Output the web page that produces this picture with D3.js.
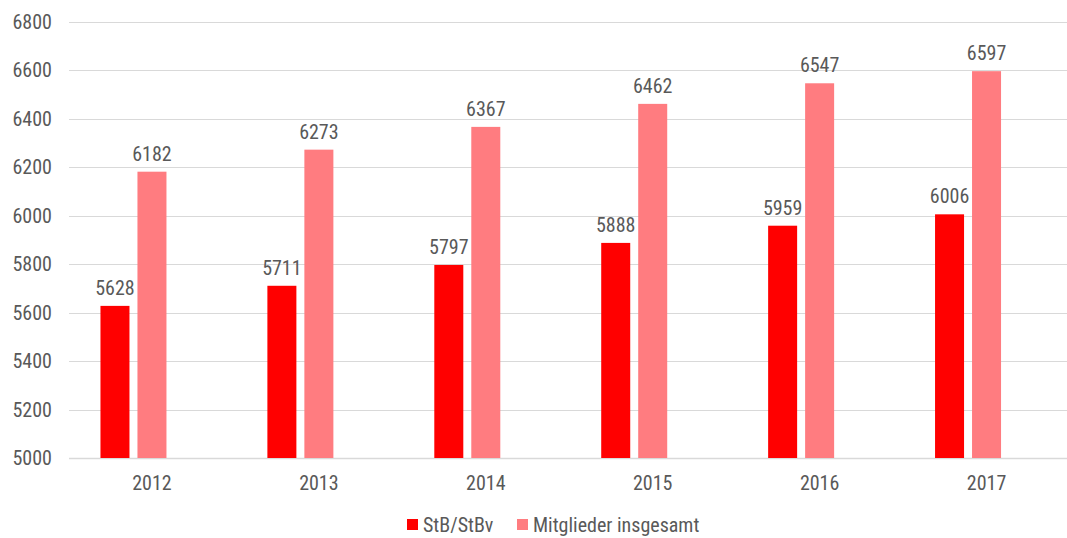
<!DOCTYPE html>
<html>
  <head>
    <meta charset="utf-8">
    <title>StB/StBv Mitglieder</title>
    <script src="https://d3js.org/d3.v7.min.js"></script>
    <style>
      body { margin: 0; background: #fff; }
      text { font-family: "Liberation Sans Narrow", "Arial Narrow", "Roboto Condensed", sans-serif; fill: #595959; }
    </style>
  </head>
  <body>
    <div id="chart"></div>
    <script>
      var years = ["2012", "2013", "2014", "2015", "2016", "2017"];
      var stb = [5628, 5711, 5797, 5888, 5959, 6006];
      var mitglieder = [6182, 6273, 6367, 6462, 6547, 6597];
      var seriesNames = ["StB/StBv", "Mitglieder insgesamt"];
      var colors = ["#ff0000", "#ff7c80"];
      var yTicks = [5000, 5200, 5400, 5600, 5800, 6000, 6200, 6400, 6600, 6800];

      var width = 1067, height = 538;
      var plotLeft = 68.5, plotRight = 1070, plotTop = 22, plotBottom = 458;

      var svg = d3.select("#chart").append("svg")
        .attr("width", width)
        .attr("height", height);

      var y = d3.scaleLinear().domain([5000, 6800]).range([plotBottom, plotTop]);

      var x0 = d3.scaleBand().domain(years).range([plotLeft, plotRight])
        .paddingInner(0.383).paddingOuter(0.1915);
      // third slot stays empty, like in the original sheet
      var x1 = d3.scaleBand().domain(["a", "b", "c"]).range([0, x0.bandwidth()])
        .paddingInner(0.216).paddingOuter(0);

      // gridlines
      svg.append("g").selectAll("line")
        .data(yTicks)
        .enter().append("line")
        .attr("x1", 69).attr("x2", 1067)
        .attr("y1", function (d) { return Math.round(y(d)) + 0.5; })
        .attr("y2", function (d) { return Math.round(y(d)) + 0.5; })
        .attr("stroke", "#d9d9d9")
        .attr("stroke-width", function (d) { return d == 5000 ? 1.5 : 1; });

      // y labels
      svg.append("g").selectAll("text")
        .data(yTicks)
        .enter().append("text")
        .attr("x", 52)
        .attr("y", function (d) { return y(d); })
        .attr("dy", "0.35em")
        .attr("text-anchor", "end")
        .style("font-size", "20px")
        .text(function (d) { return d; });

      // x labels
      svg.append("g").selectAll("text")
        .data(years)
        .enter().append("text")
        .attr("x", function (d) { return x0(d) + x0.bandwidth() / 2; })
        .attr("y", 490)
        .attr("text-anchor", "middle")
        .style("font-size", "20px")
        .text(function (d) { return d; });

      var series = [stb, mitglieder];
      var slots = ["a", "b"];

      series.forEach(function (vals, i) {
        var g = svg.append("g");
        g.selectAll("rect")
          .data(vals)
          .enter().append("rect")
          .attr("x", function (d, j) { return x0(years[j]) + x1(slots[i]); })
          .attr("y", function (d) { return y(d); })
          .attr("width", x1.bandwidth())
          .attr("height", function (d) { return y(5000) - y(d); })
          .attr("fill", colors[i]);

        g.selectAll("text")
          .data(vals)
          .enter().append("text")
          .attr("x", function (d, j) { return x0(years[j]) + x1(slots[i]) + x1.bandwidth() / 2; })
          .attr("y", function (d) { return y(d) - 11; })
          .attr("text-anchor", "middle")
          .style("font-size", "20px")
          .text(function (d) { return d; });
      });

      // legend
      var legend = svg.append("g");
      var legendX = [407, 517];
      seriesNames.forEach(function (name, i) {
        legend.append("rect")
          .attr("x", legendX[i]).attr("y", 519)
          .attr("width", 11).attr("height", 11)
          .attr("fill", colors[i]);
        legend.append("text")
          .attr("x", legendX[i] + 16).attr("y", 524.5)
          .attr("dy", "0.35em")
          .style("font-size", "20px")
          .text(name);
      });
    </script>
  </body>
</html>
